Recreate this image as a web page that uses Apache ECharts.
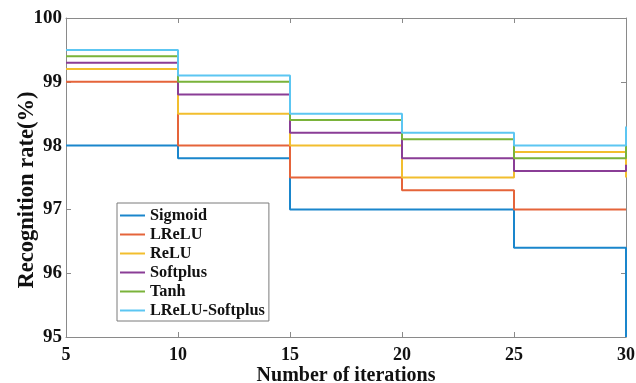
<!DOCTYPE html>
<html>
<head>
<meta charset="utf-8">
<script src="https://cdn.jsdelivr.net/npm/echarts@6/dist/echarts.min.js"></script>
<style>html,body{margin:0;padding:0;background:#fff;}#c{width:636px;height:383px;}</style>
</head>
<body>
<div id="c"></div>
<script>
const iterations = [5, 10, 15, 20, 25, 30];
const seriesNames = ['Sigmoid', 'LReLU', 'ReLU', 'Softplus', 'Tanh', 'LReLU-Softplus'];
const sigmoid = [98.0, 97.8, 97.0, 97.0, 96.4, 95.0];
const lrelu = [99.0, 98.0, 97.5, 97.3, 97.0, 97.0];
const relu = [99.2, 98.5, 98.0, 97.5, 97.9, 97.5];
const softplus = [99.3, 98.8, 98.2, 97.8, 97.6, 97.7];
const tanh = [99.4, 99.0, 98.4, 98.1, 97.8, 98.0];
const lreluSoftplus = [99.5, 99.1, 98.5, 98.2, 98.0, 98.3];
const colors = ['#1a86cc', '#e5643a', '#f2be2e', '#8a3d96', '#7ab33a', '#5cc6f2'];

const allValues = [sigmoid, lrelu, relu, softplus, tanh, lreluSoftplus];
const font = 'Liberation Serif';
const chart = echarts.init(document.getElementById('c'));
const axisLine = {show: true, lineStyle: {color: '#8a8a8a', width: 1}};
chart.setOption({
  animation: false,
  backgroundColor: '#fff',
  grid: {left: 66, right: 10, top: 18, bottom: 46, containLabel: false, outerBoundsMode: 'none'},
  legend: {
    orient: 'vertical', left: 117, top: 203,
    data: seriesNames,
    icon: 'rect', itemWidth: 25, itemHeight: 2, itemGap: 0,
    padding: [3, 4, 1, 3],
    borderColor: '#7a7a7a', borderWidth: 1, backgroundColor: '#fff',
    textStyle: {fontFamily: font, fontWeight: 'bold', fontSize: 16.3, color: '#111', lineHeight: 19}
  },
  xAxis: [{
    type: 'value', min: 5, max: 30, interval: 5, position: 'bottom',
    name: 'Number of iterations', nameLocation: 'middle', nameGap: 29, nameMoveOverlap: false,
    nameTextStyle: {fontFamily: font, fontWeight: 'bold', fontSize: 20, color: '#111'},
    axisLine: axisLine, axisTick: {show: true, inside: true, length: 5, lineStyle: {color: '#8a8a8a'}},
    axisLabel: {fontFamily: font, fontWeight: 'bold', fontSize: 18, color: '#111', margin: 9},
    splitLine: {show: false}
  }, {
    type: 'value', min: 5, max: 30, interval: 5, position: 'top',
    axisLine: axisLine, axisTick: {show: true, inside: true, length: 5, lineStyle: {color: '#8a8a8a'}},
    axisLabel: {show: false}, splitLine: {show: false}
  }],
  yAxis: [{
    type: 'value', min: 95, max: 100, interval: 1, position: 'left',
    name: 'Recognition rate(%)', nameLocation: 'middle', nameGap: 27, nameMoveOverlap: false,
    nameTextStyle: {fontFamily: font, fontWeight: 'bold', fontSize: 22.5, color: '#111', padding: [0, 25, 0, 0]},
    axisLine: axisLine, axisTick: {show: true, inside: true, length: 5, lineStyle: {color: '#8a8a8a'}},
    axisLabel: {fontFamily: font, fontWeight: 'bold', fontSize: 19, color: '#111', margin: 4},
    splitLine: {show: false}
  }, {
    type: 'value', min: 95, max: 100, interval: 1, position: 'right',
    axisLine: axisLine, axisTick: {show: true, inside: true, length: 5, lineStyle: {color: '#8a8a8a'}},
    axisLabel: {show: false}, splitLine: {show: false}
  }],
  series: seriesNames.map((name, i) => ({
    name: name, type: 'line', step: 'end', showSymbol: false, symbol: 'none',
    xAxisIndex: 0, yAxisIndex: 0,
    data: iterations.map((x, j) => [x, allValues[i][j]]),
    lineStyle: {color: colors[i], width: 2},
    itemStyle: {color: colors[i]}
  }))
});
</script>
</body>
</html>
